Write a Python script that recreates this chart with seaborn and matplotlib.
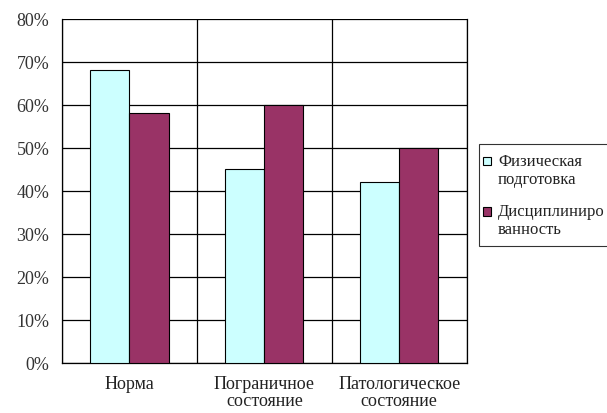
import pandas as pd
import matplotlib.pyplot as plt
import seaborn as sns
from matplotlib.ticker import FuncFormatter
from matplotlib.patches import Rectangle
from matplotlib.legend_handler import HandlerPatch

categories = ['Норма', 'Пограничное\nсостояние', 'Патологическое\nсостояние']
series_names = ['Физическая\nподготовка', 'Дисциплиниро\nванность']
fiz = [68, 45, 42]
disc = [58, 60, 50]

df = pd.DataFrame({
    'cat': categories * 2,
    'series': [series_names[0]] * 3 + [series_names[1]] * 3,
    'value': fiz + disc,
})

sns.set_style('white')
plt.rcParams['font.family'] = ['Liberation Serif', 'DejaVu Serif']

fig = plt.figure(figsize=(6.07, 4.14), dpi=100)
ax = fig.add_axes([0.102, 0.121, 0.667, 0.831])

sns.barplot(data=df, x='cat', y='value', hue='series',
            palette=['#CCFFFF', '#993366'], width=0.58, gap=0,
            edgecolor='black', linewidth=0.8, saturation=1, ax=ax, zorder=3)

ax.set_ylim(0, 80)
ax.set_xlim(-0.5, 2.5)
ax.set_yticks(range(0, 81, 10))
ax.yaxis.set_major_formatter(FuncFormatter(lambda v, p: f'{int(v)}%'))
ax.grid(axis='y', color='black', linewidth=0.9, zorder=0)
ax.set_xticks([-0.5, 0.5, 1.5, 2.5], minor=True)
ax.grid(axis='x', which='minor', color='black', linewidth=0.9, zorder=0)
ax.tick_params(axis='x', which='major', length=0, labelsize=13, pad=9, labelcolor='#222222')
ax.tick_params(axis='x', which='minor', length=5, width=0.9, color='black', direction='out')
ax.tick_params(axis='y', length=5, width=0.9, color='black', direction='out', labelsize=13,
               pad=4, labelcolor='#333333')
for lbl in ax.get_xticklabels():
    lbl.set_linespacing(1.0)
ax.set_xlabel('')
ax.set_ylabel('')
for s in ax.spines.values():
    s.set_color('black')
    s.set_linewidth(0.9)
ax.spines['top'].set_visible(False)


# legend square sits next to the first line of the label
def top_square(legend, orig_handle, xdescent, ydescent, width, height, fontsize):
    return Rectangle((-xdescent - 3, -ydescent + 6.5), width, height)


leg = ax.legend(loc='upper left', bbox_to_anchor=(1.03, 0.635), frameon=True,
                fontsize=12, handlelength=0.45, handleheight=0.45, handletextpad=0.2,
                borderaxespad=0, fancybox=False, labelspacing=0.95, borderpad=0.5,
                handler_map={Rectangle: HandlerPatch(patch_func=top_square)})
leg.get_frame().set_edgecolor('black')
leg.get_frame().set_linewidth(0.8)
for t in leg.get_texts():
    t.set_color('#222222')

fig.savefig('out.png', dpi=100)
